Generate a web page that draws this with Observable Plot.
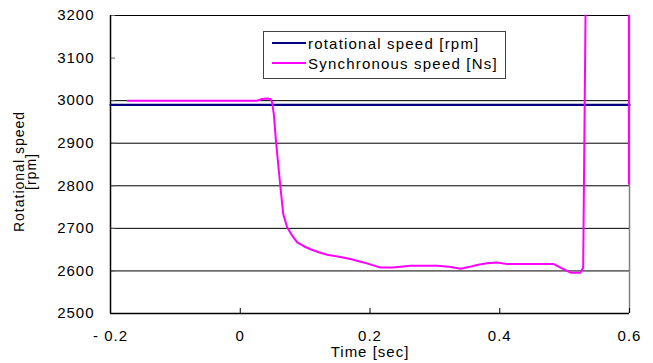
<!DOCTYPE html>
<html><head><meta charset="utf-8">
<script src="https://cdn.jsdelivr.net/npm/d3@7"></script>
<script src="https://cdn.jsdelivr.net/npm/@observablehq/plot@0.6"></script>
<style>
body{margin:0;background:#fff;}
#wrap{position:relative;width:653px;height:363px;font-family:"Liberation Sans",Arial,sans-serif;}
#legend{position:absolute;left:263px;top:31px;width:243px;height:48px;border:1px solid #444;background:#fff;box-sizing:border-box;}
#legend .row{position:absolute;left:8px;height:20px;display:flex;align-items:center;font-size:15px;letter-spacing:1.2px;color:#000;white-space:nowrap;}
#legend .sw{width:34px;height:2px;margin-right:2px;}
</style></head><body><div id="wrap"></div>
<script>
// Synchronous speed [Ns] (magenta) — null marks the gap where the trace leaves the top
const timeSync = [-0.173, 0.026, 0.034, 0.0415, 0.0466, 0.049, 0.0517, 0.0554, 0.062, 0.0662, 0.0724, 0.080, 0.0878, 0.098, 0.1083, 0.121, 0.134, 0.150, 0.170, 0.190, 0.205, 0.216, 0.236, 0.2624, 0.3036, 0.322, 0.3395, 0.352, 0.365, 0.380, 0.396, 0.4115, 0.450, 0.4833, 0.4936, 0.509, 0.5245, 0.5286, 0.5322, 0.5322, 0.599, 0.599];
const speedSync = [3000, 3000, 3004, 3005, 3004, 2997, 2969, 2899, 2796, 2734, 2702, 2683, 2667, 2658, 2651, 2644, 2638, 2634, 2628, 2620, 2613, 2608, 2608, 2612, 2612, 2610, 2605, 2609, 2614, 2618, 2620, 2616, 2616, 2616, 2608, 2596, 2596, 2608, 3200, null, 3200, 2805];
// rotational speed [rpm] (navy)
const timeRot = [-0.2, 0.6];
const speedRot = [2990, 2990];

const xTicks = [-0.2, 0, 0.2, 0.4, 0.6];
const xTickLabels = ["- 0.2", "0", "0.2", "0.4", "0.6"];
const yTicks = [2500, 2600, 2700, 2800, 2900, 3000, 3100, 3200];
const yGrid = [2600, 2700, 2800, 2900, 3000, 3200];
const seriesNames = ["rotational speed [rpm]", "Synchronous speed [Ns]"];
const seriesColors = ["#000080", "#FF00FF"];
const xLabel = "Time [sec]";
const yLabelLines = ["Rotational speed", "[rpm]"];

const W = 653, H = 363, mL = 110, mR = 24, mT = 15, mB = 50;
const plotW = W - mL - mR, plotH = H - mT - mB;

const syncData = timeSync.map((t, i) => ({t, v: speedSync[i]}));
const rotData = timeRot.map((t, i) => ({t, v: speedRot[i]}));

const chart = Plot.plot({
  width: W, height: H,
  marginLeft: mL, marginRight: mR, marginTop: mT, marginBottom: mB,
  style: {fontFamily: '"Liberation Sans", Arial, sans-serif', fontSize: "15px", letterSpacing: "1px", background: "#fff", color: "#000"},
  x: {domain: [-0.2, 0.6]},
  y: {domain: [2500, 3200]},
  marks: [
    Plot.ruleY(yGrid, {stroke: "#000", strokeWidth: 1}),
    Plot.ruleX([0.6], {stroke: "#808080", strokeWidth: 1.5}),
    Plot.tickX(xTicks, {x: d => d, insetTop: plotH - 5, stroke: "#000"}),
    Plot.tickY(yTicks, {y: d => d, insetRight: plotW - 5, stroke: "#666"}),
    Plot.axisX(xTicks, {tickSize: 0, tickPadding: 17, label: null, tickFormat: d => xTickLabels[xTicks.indexOf(d)]}),
    Plot.axisY(yTicks, {tickSize: 0, tickPadding: 16, label: null, tickFormat: d => String(d)}),
    Plot.ruleX([-0.2], {stroke: "#000", strokeWidth: 1.5}),
    Plot.ruleY([2500], {stroke: "#000", strokeWidth: 1.5}),
    Plot.text([xLabel], {frameAnchor: "bottom", dy: 43, fontSize: 15, textAnchor: "middle", text: d => d}),
    Plot.text([yLabelLines[0]], {frameAnchor: "middle", dx: -(mL + plotW / 2) + 18.7, dy: 7, rotate: -90, fontSize: 14, text: d => d, ariaLabel: "ylabel"}),
    Plot.text([yLabelLines[1]], {frameAnchor: "middle", dx: -(mL + plotW / 2) + 31.5, dy: 7, rotate: -90, fontSize: 14, text: d => d, ariaLabel: "ylabel"}),
    Plot.line(rotData, {x: "t", y: "v", stroke: seriesColors[0], strokeWidth: 2.2}),
    Plot.line(syncData, {x: "t", y: "v", stroke: seriesColors[1], strokeWidth: 2})
  ]
});
document.getElementById("wrap").appendChild(chart);
d3.select(chart).selectAll('g[aria-label="ylabel"] text').style("letter-spacing", "0.2px");

const legend = document.createElement("div");
legend.id = "legend";
seriesNames.forEach((name, i) => {
  const row = document.createElement("div");
  row.className = "row";
  row.style.top = (i === 0 ? 1 : 21) + "px";
  const sw = document.createElement("div");
  sw.className = "sw";
  sw.style.background = seriesColors[i];
  const tx = document.createElement("span");
  tx.textContent = name;
  row.appendChild(sw); row.appendChild(tx);
  legend.appendChild(row);
});
document.getElementById("wrap").appendChild(legend);
</script></body></html>
